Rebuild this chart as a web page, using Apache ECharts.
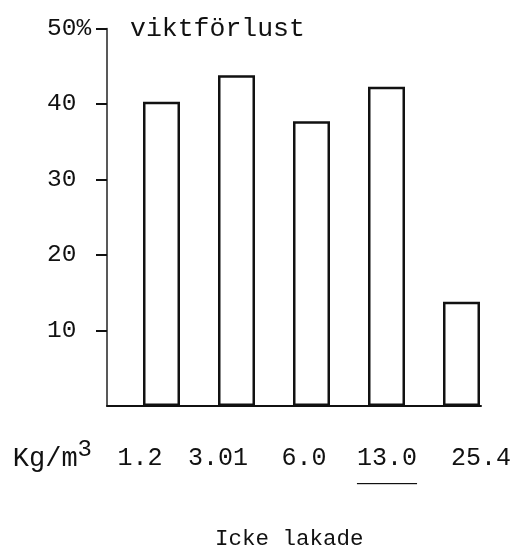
<!DOCTYPE html>
<html>
<head>
<meta charset="utf-8">
<script src="https://cdn.jsdelivr.net/npm/echarts@6/dist/echarts.min.js"></script>
<style>
html,body{margin:0;padding:0;background:#fff;}
#c{width:532px;height:553px;}
</style>
</head>
<body>
<div id="c"></div>
<script>
// Data
var categories = ['1.2', '3.01', '6.0', '13.0', '25.4'];
var weightLoss = [40.3, 43.8, 37.7, 42.3, 13.8];
var yTicks = [10, 20, 30, 40, 50];
var xUnit = 'Kg/m';
var yName = 'viktförlust';
var titleText = 'Icke lakade';

// Layout (label positions along the bar index scale)
var labelPos = [0.713, 1.753, 2.9, 4.007, 5.26];

var FONT = '"Liberation Mono", "DejaVu Sans Mono", monospace';
var chart = echarts.init(document.getElementById('c'), null, {renderer: 'canvas'});

function labelFor(v) {
  var best = 0, bd = 1e9;
  for (var i = 0; i < labelPos.length; i++) {
    var d = Math.abs(labelPos[i] - v);
    if (d < bd) { bd = d; best = i; }
  }
  var t = categories[best];
  if (t === '13.0') return '{n|' + t + '}\n{u|____}';
  return '{n|' + t + '}';
}

chart.setOption({
  animation: false,
  backgroundColor: '#fff',
  title: {
    text: titleText,
    left: 210,
    top: 523,
    textStyle: {fontFamily: FONT, fontSize: 22.5, fontWeight: 'normal', color: '#111'}
  },
  grid: {left: 107, right: 51, top: 28.5, bottom: 147, containLabel: false},
  xAxis: {
    type: 'value',
    min: 0.2733,
    max: 5.26,
    name: '{a|' + xUnit + '}{s|3}',
    nameLocation: 'start',
    nameGap: 15,
    nameTextStyle: {
      fontFamily: FONT, color: '#111',
      padding: [106, 0, 0, 0],
      rich: {
        a: {fontFamily: FONT, fontSize: 27, color: '#111'},
        s: {fontFamily: FONT, fontSize: 24, color: '#111', padding: [0, 0, 18, 0]}
      }
    },
    axisLine: {show: true, lineStyle: {color: '#111', width: 2}},
    axisTick: {show: false},
    splitLine: {show: false},
    axisLabel: {
      customValues: labelPos,
      margin: 40,
      formatter: labelFor,
      rich: {
        n: {fontFamily: FONT, fontSize: 25, color: '#111'},
        u: {fontFamily: FONT, fontSize: 25, color: '#111', lineHeight: 6}
      }
    }
  },
  yAxis: {
    type: 'value',
    min: 0,
    max: 50,
    interval: 10,
    name: yName,
    nameLocation: 'end',
    nameGap: 0,
    nameTextStyle: {
      fontFamily: FONT, fontSize: 26.5, color: '#111',
      align: 'left', verticalAlign: 'middle', padding: [0, 0, 0, 23]
    },
    axisLine: {show: true, lineStyle: {color: '#222', width: 1.5}},
    axisTick: {show: true, inside: false, length: 11, lineStyle: {color: '#111', width: 2}},
    splitLine: {show: false},
    axisLabel: {
      showMinLabel: false,
      margin: 60,
      align: 'left',
      fontFamily: FONT, fontSize: 24.5, color: '#111',
      formatter: function (v) { return v === 50 ? v + '%' : String(v); }
    }
  },
  series: [{
    type: 'bar',
    data: weightLoss.map(function (v, i) { return [i + 1, v]; }),
    barWidth: 37,
    itemStyle: {color: '#fff', borderColor: '#111', borderWidth: 2.5},
    z: 3
  }]
});
</script>
</body>
</html>
